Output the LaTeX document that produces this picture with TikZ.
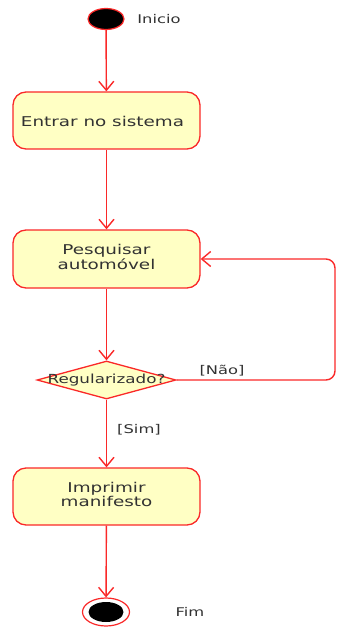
\documentclass[tikz,border=0pt]{standalone}
\usepackage{fontspec}
\setmainfont{DejaVu Sans}
\usetikzlibrary{shapes.geometric,arrows.meta}
\definecolor{umlred}{RGB}{250,40,40}
\definecolor{umlfill}{RGB}{255,255,196}
\definecolor{umltext}{RGB}{50,50,50}
% wide lettering used throughout the diagram
\newcommand{\wide}[1]{\scalebox{1.36}[1]{#1}}
\newcommand{\twolines}[2]{\wide{\begin{tabular}{@{}c@{}}#1\\#2\end{tabular}}}
\begin{document}
\begin{tikzpicture}[x=1pt,y=-1pt,
  flow/.style={draw=umlred, line width=1.4pt, -{Straight Barb[length=9pt,width=15pt]}},
  action/.style={rectangle, rounded corners=13pt, draw=umlred, line width=1.3pt,
    fill=umlfill, minimum width=187pt, inner sep=0pt, text=umltext,
    font=\fontsize{13.5}{13.3}\selectfont},
  decision/.style={diamond, draw=umlred, line width=1.3pt, fill=umlfill,
    minimum width=139pt, minimum height=38pt, inner sep=0pt},
  lbl/.style={text=umltext, font=\fontsize{12}{13}\selectfont, inner sep=0pt},
  initial/.style={ellipse, draw=umlred, line width=1.2pt, fill=black,
    minimum width=36pt, minimum height=21pt, inner sep=0pt}]
\useasboundingbox (0,0) rectangle (343,628);

% start node
\node[initial] (start) at (106,19) {};
\node[lbl] (inicio) at (159,19) {\wide{Inicio}};

% actions
\node[action, minimum height=57pt] (entrar) at (106.5,120.5) {};
\node[text=umltext, font=\fontsize{13.5}{13.3}\selectfont, inner sep=0pt] (entrarlbl) at (102.5,121) {\wide{Entrar no sistema}};
\node[action, minimum height=58pt] (pesquisar) at (106.5,259) {\twolines{Pesquisar}{automóvel}};

% decision
\node[decision] (dec) at (106.5,380) {};
\node[text=umltext, font=\fontsize{12.5}{13}\selectfont, inner sep=0pt] (declbl) at (106.5,380.5) {\scalebox{1.34}[1]{Regularizado?}};

\node[action, minimum height=57pt] (imprimir) at (106.5,496.5) {\twolines{Imprimir}{manifesto}};

% final node
\node[ellipse, draw=umlred, line width=1.2pt, fill=white, minimum width=47pt,
  minimum height=28pt, inner sep=0pt] (fim) at (106,612) {};
\node[ellipse, fill=black, minimum width=35pt, minimum height=20pt, inner sep=0pt] (fimdot) at (106,612) {};
\node[lbl] (fimlbl) at (190,612) {\wide{Fim}};

% guard labels
\node[lbl] (nao) at (222,371) {\wide{[Não]}};
\node[lbl] (sim) at (139,430) {\wide{[Sim]}};

% connectors
\draw[flow] (start) -- (entrar);
\draw[flow] (entrar) -- (pesquisar);
\draw[flow] (pesquisar) -- (dec);
\draw[flow] (dec) -- (imprimir);
\draw[flow] (imprimir) -- (fim);
\coordinate (loop) at (335,320);
\draw[flow, rounded corners=9pt] (dec.east) -| (loop) |- (pesquisar.east);
\end{tikzpicture}
\end{document}
